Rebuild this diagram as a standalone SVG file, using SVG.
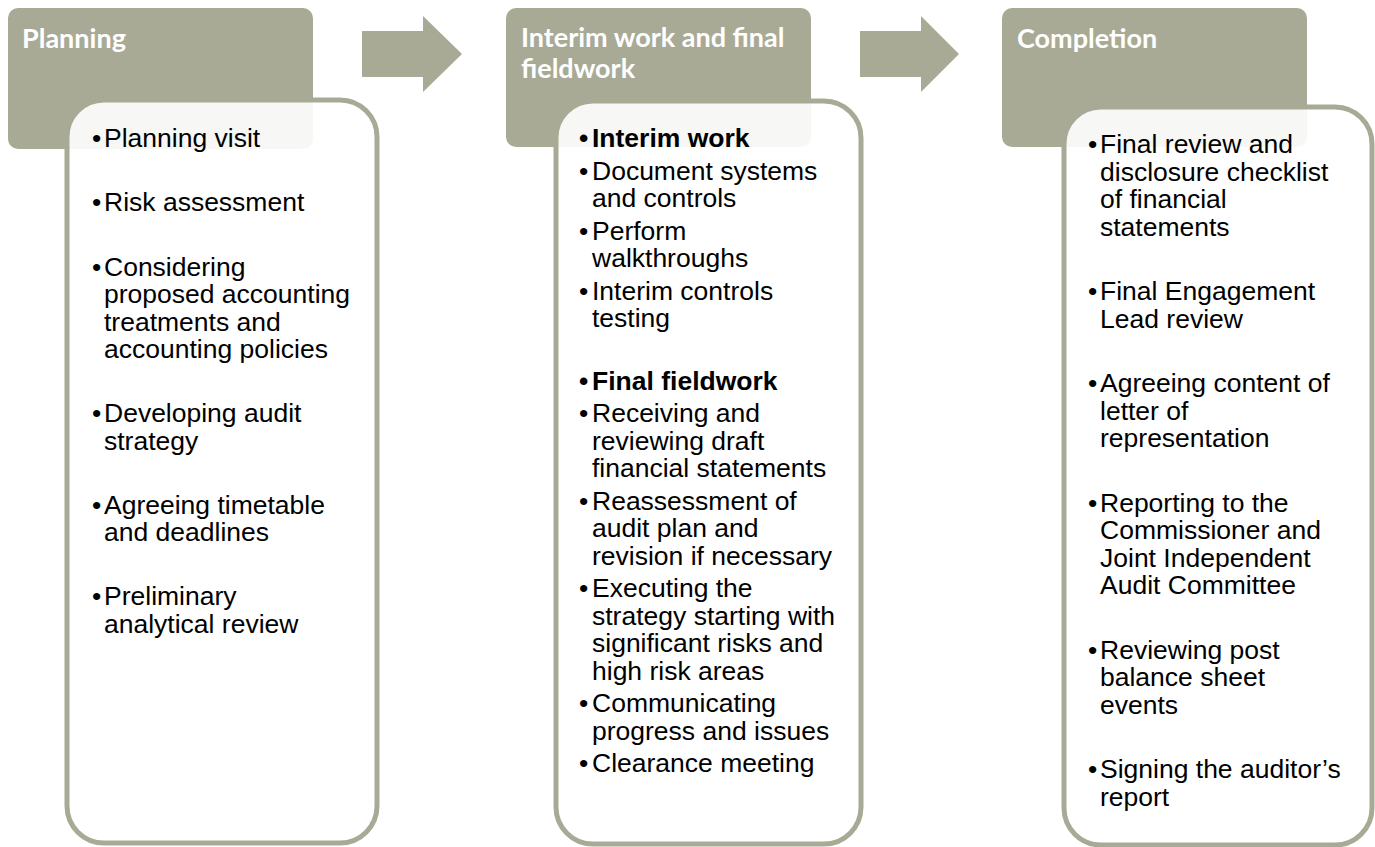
<svg xmlns="http://www.w3.org/2000/svg" width="1375" height="847" viewBox="0 0 1375 847">
<style>
.hdr{fill:#A9AA96}
.card{fill:#FFFFFF;fill-opacity:0.9;stroke:#A9AA96;stroke-width:5}
.ht{font-family:Lato,"Open Sans",sans-serif;font-weight:700;font-size:27px;fill:#FFFFFF}
.bt{font-family:"Liberation Sans",Arial,sans-serif;font-size:26.5px;fill:#000000}
.b{font-weight:700}
.arrow{fill:#A9AA96}
</style>
<rect x="0" y="0" width="1375" height="847" fill="#FFFFFF"/>
<g id="connectors">
<polygon class="arrow" points="362,31 423,31 423,16 462,54 423,92 423,77 362,77"/>
<polygon class="arrow" points="860,31 921,31 921,16 959,54 921,92 921,77 860,77"/>
</g>
<g id="planning">
<rect class="hdr" x="8" y="8" width="305" height="141" rx="10"/>
<text class="ht" x="22" y="48">Planning</text>
<rect class="card" x="67" y="100" width="310" height="743" rx="37"/>
<g class="bt">
<text x="92" y="147">•</text><text x="104" y="147">Planning visit</text>
<text x="92" y="211">•</text><text x="104" y="211">Risk assessment</text>
<text x="92" y="275.5">•</text><text x="104" y="275.5">Considering</text>
<text x="104" y="303">proposed accounting</text>
<text x="104" y="330.5">treatments and</text>
<text x="104" y="358">accounting policies</text>
<text x="92" y="422">•</text><text x="104" y="422">Developing audit</text>
<text x="104" y="449.5">strategy</text>
<text x="92" y="513.5">•</text><text x="104" y="513.5">Agreeing timetable</text>
<text x="104" y="541">and deadlines</text>
<text x="92" y="605">•</text><text x="104" y="605">Preliminary</text>
<text x="104" y="632.5">analytical review</text>
</g>
</g>
<g id="fieldwork">
<rect class="hdr" x="506" y="8" width="305" height="139" rx="10"/>
<text class="ht" x="521" y="47">Interim work and final</text>
<text class="ht" x="521" y="78">fieldwork</text>
<rect class="card" x="556" y="101" width="305" height="743" rx="37"/>
<g class="bt">
<text class="b" x="579" y="147">•</text><text class="b" x="592" y="147">Interim work</text>
<text x="579" y="179.5">•</text><text x="592" y="179.5">Document systems</text>
<text x="592" y="207">and controls</text>
<text x="579" y="239.5">•</text><text x="592" y="239.5">Perform</text>
<text x="592" y="267">walkthroughs</text>
<text x="579" y="299.5">•</text><text x="592" y="299.5">Interim controls</text>
<text x="592" y="327">testing</text>
<text class="b" x="579" y="389.5">•</text><text class="b" x="592" y="389.5">Final fieldwork</text>
<text x="579" y="422">•</text><text x="592" y="422">Receiving and</text>
<text x="592" y="449.5">reviewing draft</text>
<text x="592" y="477">financial statements</text>
<text x="579" y="509.5">•</text><text x="592" y="509.5">Reassessment of</text>
<text x="592" y="537">audit plan and</text>
<text x="592" y="564.5">revision if necessary</text>
<text x="579" y="597">•</text><text x="592" y="597">Executing the</text>
<text x="592" y="624.5">strategy starting with</text>
<text x="592" y="652">significant risks and</text>
<text x="592" y="679.5">high risk areas</text>
<text x="579" y="712">•</text><text x="592" y="712">Communicating</text>
<text x="592" y="739.5">progress and issues</text>
<text x="579" y="772">•</text><text x="592" y="772">Clearance meeting</text>
</g>
</g>
<g id="completion">
<rect class="hdr" x="1002" y="8" width="305" height="139" rx="10"/>
<text class="ht" x="1017" y="48">Completion</text>
<rect class="card" x="1064" y="107" width="308" height="738" rx="37"/>
<g class="bt">
<text x="1088" y="153">•</text><text x="1100" y="153">Final review and</text>
<text x="1100" y="180.5">disclosure checklist</text>
<text x="1100" y="208">of financial</text>
<text x="1100" y="235.5">statements</text>
<text x="1088" y="300">•</text><text x="1100" y="300">Final Engagement</text>
<text x="1100" y="327.5">Lead review</text>
<text x="1088" y="392">•</text><text x="1100" y="392">Agreeing content of</text>
<text x="1100" y="419.5">letter of</text>
<text x="1100" y="447">representation</text>
<text x="1088" y="511.5">•</text><text x="1100" y="511.5">Reporting to the</text>
<text x="1100" y="539">Commissioner and</text>
<text x="1100" y="566.5">Joint Independent</text>
<text x="1100" y="594">Audit Committee</text>
<text x="1088" y="658.5">•</text><text x="1100" y="658.5">Reviewing post</text>
<text x="1100" y="686">balance sheet</text>
<text x="1100" y="713.5">events</text>
<text x="1088" y="778">•</text><text x="1100" y="778">Signing the auditor’s</text>
<text x="1100" y="805.5">report</text>
</g>
</g>
</svg>
